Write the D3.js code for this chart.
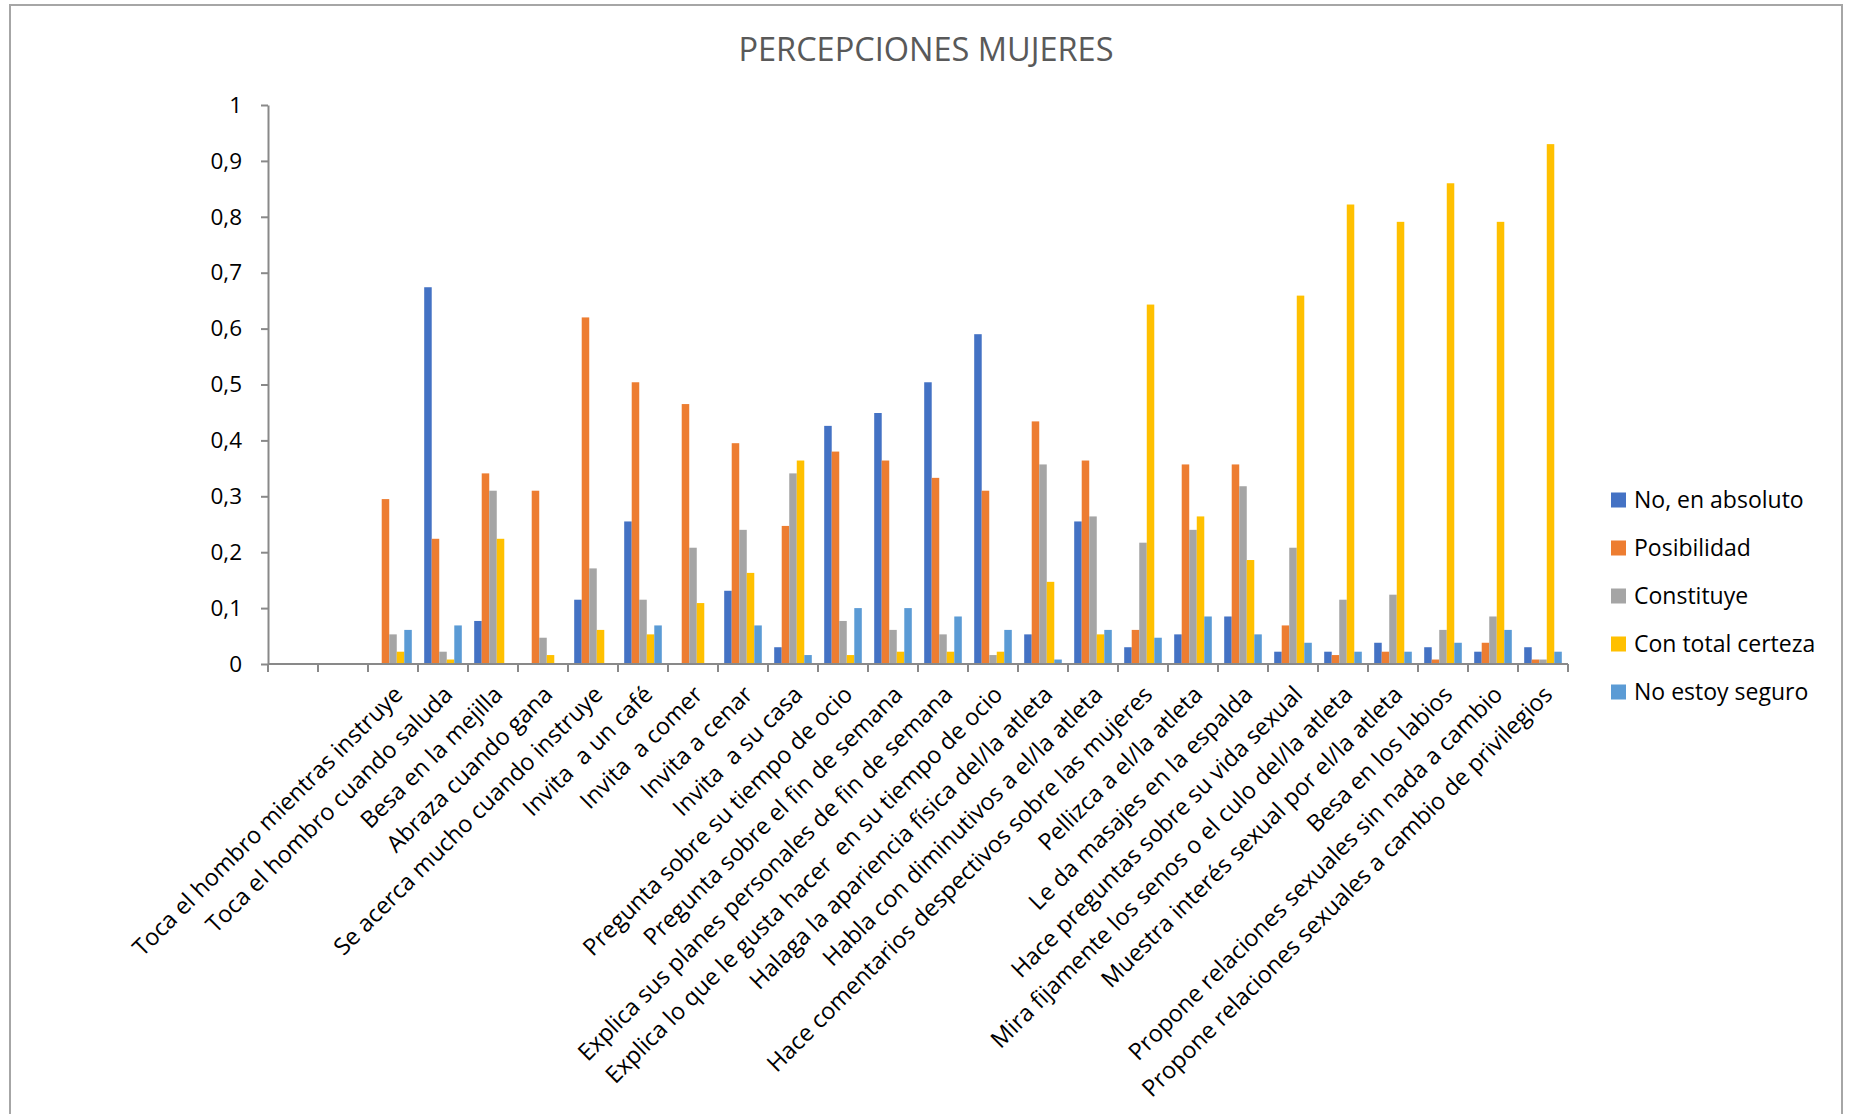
<!DOCTYPE html>
<html>
<head>
<meta charset="utf-8">
<script src="https://cdn.jsdelivr.net/npm/d3@7"></script>
<style>
  html, body { margin: 0; padding: 0; background: #fff; }
  svg { display: block; }
  text { font-family: "Open Sans", "Noto Sans", sans-serif; }
</style>
</head>
<body>
<svg id="chart" width="1850" height="1114"></svg>
<script>
const title = "PERCEPCIONES MUJERES";

const categories = [
  "", "",
  "Toca el hombro mientras instruye",
  "Toca el hombro cuando saluda",
  "Besa en la mejilla",
  "Abraza cuando gana",
  "Se acerca mucho cuando instruye",
  "Invita  a un café",
  "Invita  a comer",
  "Invita a cenar",
  "Invita  a su casa",
  "Pregunta sobre su tiempo de ocio",
  "Pregunta sobre el fin de semana",
  "Explica sus planes personales de fin de semana",
  "Explica lo que le gusta hacer  en su tiempo de ocio",
  "Halaga la apariencia física del/la atleta",
  "Habla con diminutivos a el/la atleta",
  "Hace comentarios despectivos sobre las mujeres",
  "Pellizca a el/la atleta",
  "Le da masajes en la espalda",
  "Hace preguntas sobre su vida sexual",
  "Mira fijamente los senos o el culo del/la atleta",
  "Muestra interés sexual por el/la atleta",
  "Besa en los labios",
  "Propone relaciones sexuales sin nada a cambio",
  "Propone relaciones sexuales a cambio de privilegios"
];

const seriesNames = ["No, en absoluto", "Posibilidad", "Constituye", "Con total certeza", "No estoy seguro"];
const seriesColors = ["#4472C4", "#ED7D31", "#A5A5A5", "#FFC000", "#5B9BD5"];

const noEnAbsoluto = [null, null, 0, 0.674, 0.077, 0, 0.115, 0.255, 0, 0.131, 0.030, 0.426, 0.449, 0.504, 0.590, 0.053, 0.255, 0.030, 0.053, 0.085, 0.022, 0.022, 0.038, 0.030, 0.022, 0.030];
const posibilidad  = [null, null, 0.295, 0.224, 0.341, 0.310, 0.620, 0.504, 0.465, 0.395, 0.247, 0.380, 0.364, 0.333, 0.310, 0.434, 0.364, 0.061, 0.357, 0.357, 0.069, 0.016, 0.022, 0.008, 0.038, 0.008];
const constituye   = [null, null, 0.053, 0.022, 0.310, 0.047, 0.171, 0.115, 0.208, 0.240, 0.341, 0.077, 0.061, 0.053, 0.016, 0.357, 0.264, 0.217, 0.240, 0.318, 0.208, 0.115, 0.124, 0.061, 0.085, 0.008];
const totalCerteza = [null, null, 0.022, 0.008, 0.224, 0.016, 0.061, 0.053, 0.109, 0.163, 0.364, 0.016, 0.022, 0.022, 0.022, 0.147, 0.053, 0.643, 0.264, 0.186, 0.659, 0.822, 0.791, 0.860, 0.791, 0.930];
const noSeguro     = [null, null, 0.061, 0.069, 0, 0, 0, 0.069, 0, 0.069, 0.016, 0.100, 0.100, 0.085, 0.061, 0.008, 0.061, 0.047, 0.085, 0.053, 0.038, 0.022, 0.022, 0.038, 0.061, 0.022];

const yTicks = [0, 0.1, 0.2, 0.3, 0.4, 0.5, 0.6, 0.7, 0.8, 0.9, 1];

const seriesValues = [noEnAbsoluto, posibilidad, constituye, totalCerteza, noSeguro];

(function () {
const svg = d3.select("#chart");

// chart border
svg.append("rect")
  .attr("x", 10).attr("y", 5)
  .attr("width", 1832).attr("height", 1130)
  .attr("fill", "#fff")
  .attr("stroke", "#a6a6a6")
  .attr("stroke-width", 2);

// title
svg.append("text")
  .attr("x", 926).attr("y", 61)
  .attr("text-anchor", "middle")
  .attr("font-size", 32.5)
  .attr("fill", "#595959")
  .text(title);

const pLeft = 268, pRight = 1568, pTop = 105, pBottom = 664;

const x = d3.scaleBand()
  .domain(d3.range(categories.length))
  .range([pLeft, pRight])
  .paddingInner(0).paddingOuter(0);

const xs = d3.scaleBand()
  .domain(d3.range(seriesNames.length))
  .range([6.2, x.bandwidth() - 6.2]);

const y = d3.scaleLinear().domain([0, 1]).range([pBottom, pTop]);

const loc = d3.formatLocale({decimal: ",", thousands: ".", grouping: [3], currency: ["", "€"]});
const fmt = loc.format(".1~f");

// bars
const groups = svg.append("g").selectAll("g")
  .data(seriesNames.map((n, i) => ({name: n, i, values: seriesValues[i]})))
  .join("g")
  .attr("fill", d => seriesColors[d.i]);

groups.selectAll("rect")
  .data(d => d.values.map((v, c) => ({v, c, s: d.i})).filter(e => e.v !== null && e.v > 0))
  .join("rect")
  .attr("x", e => x(e.c) + xs(e.s))
  .attr("width", xs.bandwidth())
  .attr("y", e => y(e.v))
  .attr("height", e => y(0) - y(e.v));

// y axis
const yAxis = d3.axisLeft(y).tickValues(yTicks).tickFormat(fmt).tickSizeOuter(0).tickSizeInner(7).tickPadding(19);
const gy = svg.append("g").attr("transform", `translate(${pLeft},0)`).call(yAxis);
gy.select(".domain").attr("stroke", "#898989").attr("stroke-width", 2);
gy.selectAll(".tick line").attr("stroke", "#898989").attr("stroke-width", 2);
gy.selectAll(".tick text")
  .attr("font-size", 22.5)
  .attr("fill", "#000")
  .attr("font-family", "Open Sans");

// x axis line & ticks at category boundaries
const gx = svg.append("g");
gx.append("line")
  .attr("x1", pLeft).attr("x2", pRight)
  .attr("y1", pBottom).attr("y2", pBottom)
  .attr("stroke", "#898989").attr("stroke-width", 2);
const boundaries = d3.range(categories.length + 1).map(i => i < categories.length ? x(i) : x(categories.length - 1) + x.bandwidth());
gx.selectAll("line.tk")
  .data(boundaries)
  .join("line")
  .attr("class", "tk")
  .attr("x1", d => d).attr("x2", d => d)
  .attr("y1", pBottom).attr("y2", pBottom + 8)
  .attr("stroke", "#898989").attr("stroke-width", 2);

// category labels
gx.selectAll("text.lbl")
  .data(categories.map((c, i) => ({c, i})).filter(d => d.c !== ""))
  .join("text")
  .attr("class", "lbl")
  .attr("transform", d => `translate(${x(d.i) + x.bandwidth() / 2 + 11},${pBottom + 32}) rotate(-45)`)
  .attr("text-anchor", "end")
  .attr("font-size", 23.5)
  .attr("fill", "#000")
  .style("white-space", "pre")
  .text(d => d.c);

// legend
const lg = svg.append("g").selectAll("g")
  .data(seriesNames)
  .join("g")
  .attr("transform", (d, i) => `translate(1611,${500 + i * 48})`);
lg.append("rect")
  .attr("x", 0).attr("y", -7.5)
  .attr("width", 15).attr("height", 15)
  .attr("fill", (d, i) => seriesColors[i]);
lg.append("text")
  .attr("x", 23).attr("y", 0)
  .attr("dy", "0.36em")
  .attr("font-size", 23)
  .attr("fill", "#000")
  .text(d => d);
})();
</script>
</body>
</html>
